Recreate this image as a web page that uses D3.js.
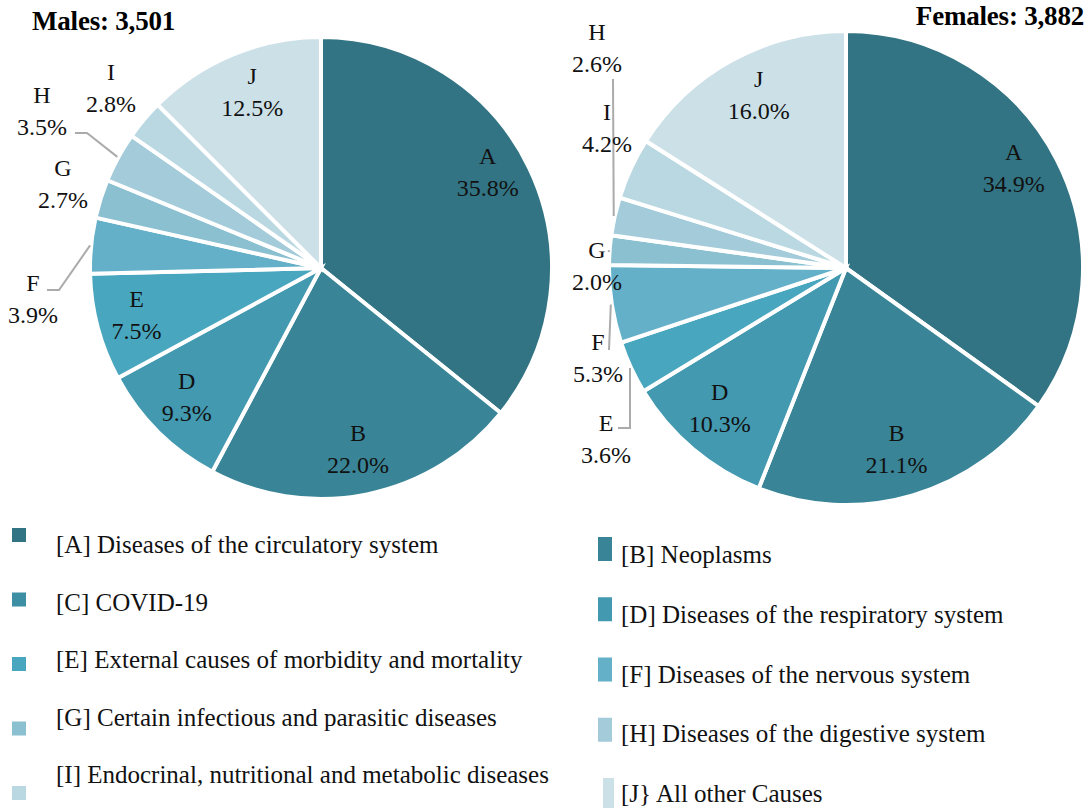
<!DOCTYPE html>
<html>
<head>
<meta charset="utf-8">
<script src="https://cdn.jsdelivr.net/npm/d3@7"></script>
<style>
  html, body { margin: 0; padding: 0; background: #fff; }
  svg { display: block; font-family: "Liberation Serif", "DejaVu Serif", serif; }
</style>
</head>
<body>
<svg id="chart" width="1091" height="811"></svg>
<script>
// Cause-of-death categories (letter codes, legend names, colours)
const letters = ["A", "B", "C", "D", "E", "F", "G", "H", "I", "J"];
const names = [
  "Diseases of the circulatory system",
  "Neoplasms",
  "COVID-19",
  "Diseases of the respiratory system",
  "External causes of morbidity and mortality",
  "Diseases of the nervous system",
  "Certain infectious and parasitic diseases",
  "Diseases of the digestive system",
  "Endocrinal, nutritional and metabolic diseases",
  "All other Causes"
];
const legendTexts = letters.map((l, i) => (l === "J" ? "[J} " : "[" + l + "] ") + names[i]);
const colors = ["#327483", "#398597", "#3d8fa4", "#4299b0", "#48a6bf", "#64b0c8",
                "#8bc0d1", "#a3cbda", "#bad8e2", "#cce0e8"];

// Slices shown in each pie (percent of deaths)
const pieLetters = ["A", "B", "D", "E", "F", "G", "H", "I", "J"];
const malesPct   = [35.8, 22.0, 9.3, 7.5, 3.9, 2.7, 3.5, 2.8, 12.5];
const femalesPct = [34.9, 21.1, 10.3, 3.6, 5.3, 2.0, 2.6, 4.2, 16.0];
const titles = ["Males: 3,501", "Females: 3,882"];

const svg = d3.select("#chart");
const colorOf = d3.scaleOrdinal().domain(letters).range(colors);

// Layout of each pie: centre, radius, title, inside-label nudges and callouts
const pies = [
  {
    values: malesPct, cx: 321, cy: 268, r: 231,
    title: titles[0], titleX: 32, titleY: 30, titleAnchor: "start",
    nudge: { A: [0, -16], J: [2, -5], E: [-6, -1], D: [-4, -2] },
    callouts: {
      F: { at: [-288, 15], path: [[-262, 22], [-274, 22]] },
      G: { at: [-258, -100] },
      H: { at: [-279, -173], path: [[-234, -135], [-246, -135]] },
      I: { at: [-210, -196] }
    }
  },
  {
    values: femalesPct, cx: 846, cy: 268, r: 237,
    title: titles[1], titleX: 1084, titleY: 25, titleAnchor: "end",
    nudge: { A: [-1, -13], D: [-4, -5], J: [4, -7], B: [-3, -1] },
    callouts: {
      E: { at: [-240, 155], path: [[-216, 160], [-228, 160]] },
      F: { at: [-248, 74], path: [[-237, 82]] },
      G: { at: [-249, -18], path: [[-237, -16]] },
      H: { at: [-249, -236], path: [[-233, -189]] },
      I: { at: [-239, -156] }
    }
  }
];

const pie = d3.pie().sort(null).value(d => d.v);
const lineGap = 32;

pies.forEach(p => {
  const data = pieLetters.map((k, i) => ({ k, v: p.values[i] }));
  const arcs = pie(data);
  const g = svg.append("g").attr("transform", `translate(${p.cx},${p.cy})`);

  const arc = d3.arc().innerRadius(0).outerRadius(p.r);
  const labelArc = d3.arc().innerRadius(p.r * 0.8).outerRadius(p.r * 0.8);
  const edgeArc = d3.arc().innerRadius(p.r + 1).outerRadius(p.r + 1);

  g.selectAll("path.slice").data(arcs).enter().append("path")
    .attr("class", "slice")
    .attr("d", arc)
    .attr("fill", d => colorOf(d.data.k))
    .attr("stroke", "#fff")
    .attr("stroke-width", 4)
    .attr("stroke-linejoin", "miter");

  // leader lines for labels placed outside the pie
  arcs.filter(d => p.callouts[d.data.k] && p.callouts[d.data.k].path).forEach(d => {
    const pts = [edgeArc.centroid(d)].concat(p.callouts[d.data.k].path);
    g.append("path")
      .attr("d", d3.line()(pts))
      .attr("fill", "none")
      .attr("stroke", "#ababab")
      .attr("stroke-width", 2);
  });

  arcs.forEach(d => {
    const k = d.data.k;
    let x, y;
    if (p.callouts[k]) {
      [x, y] = p.callouts[k].at;
    } else {
      const c = labelArc.centroid(d);
      const n = p.nudge[k] || [0, 0];
      x = c[0] + n[0];
      y = c[1] + n[1] - lineGap / 2;
    }
    const t = g.append("text")
      .attr("text-anchor", "middle")
      .attr("font-size", 24)
      .attr("fill", "#111");
    t.append("tspan").attr("x", x).attr("y", y).attr("dominant-baseline", "central").text(k);
    t.append("tspan").attr("x", x).attr("y", y + lineGap).attr("dominant-baseline", "central")
      .text(d3.format(".1f")(d.data.v) + "%");
  });

  svg.append("text")
    .attr("x", p.titleX).attr("y", p.titleY)
    .attr("text-anchor", p.titleAnchor)
    .attr("font-size", 27)
    .attr("font-weight", "bold")
    .attr("letter-spacing", -0.2)
    .attr("fill", "#000")
    .text(p.title);
});

// Legend: two columns (A,C,E,G,I on the left; B,D,F,H,J on the right)
const leftKeys = ["A", "C", "E", "G", "I"];
const rightKeys = ["B", "D", "F", "H", "J"];
const leftText = d3.scalePoint().domain(leftKeys).range([553, 783]);
const leftSwatch = d3.scalePoint().domain(leftKeys).range([528, 786]);
const rightText = d3.scalePoint().domain(rightKeys).range([563, 802]);
const rightSwatch = d3.scalePoint().domain(rightKeys).range([537, 778]);

const legend = svg.append("g").attr("class", "legend");
leftKeys.forEach(k => {
  legend.append("rect")
    .attr("x", 12).attr("y", leftSwatch(k)).attr("width", 14).attr("height", 14)
    .attr("fill", colorOf(k));
  legend.append("text")
    .attr("x", 56).attr("y", leftText(k))
    .attr("font-size", 25).attr("fill", "#111")
    .text(legendTexts[letters.indexOf(k)]);
});
rightKeys.forEach(k => {
  const tall = k === "J";
  legend.append("rect")
    .attr("x", tall ? 603 : 598).attr("y", rightSwatch(k))
    .attr("width", tall ? 11 : 14).attr("height", tall ? 30 : 24)
    .attr("fill", colorOf(k));
  legend.append("text")
    .attr("x", 621).attr("y", rightText(k))
    .attr("font-size", 25).attr("fill", "#111")
    .text(legendTexts[letters.indexOf(k)]);
});
</script>
</body>
</html>
